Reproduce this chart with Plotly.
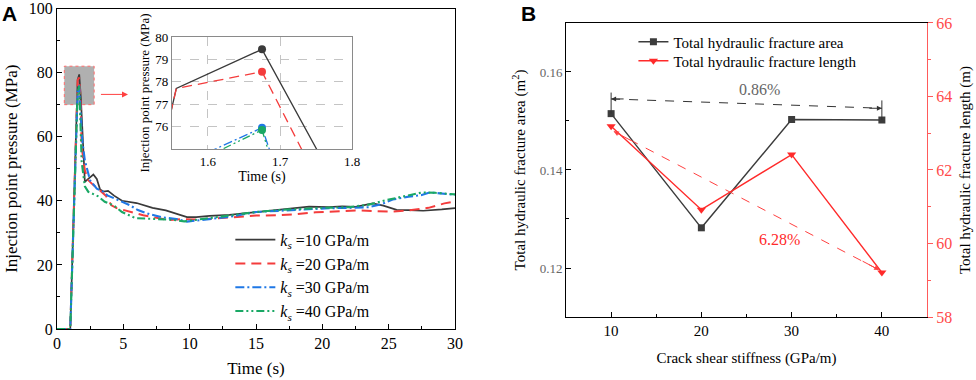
import plotly.graph_objects as go

# ---------------- Panel A data: injection point pressure ----------------
t_k10 = [0, 1.0, 1.556, 1.675, 1.8, 2.1, 2.4, 2.74, 3.0, 3.25, 3.5, 3.85, 4.3, 4.9, 6.0, 7.2, 8.2, 9.0, 9.8, 10.5, 11.5, 13, 15, 17, 19, 20.5, 21.5, 22.5, 23.8, 24.6, 25.6, 26.5, 27.6, 29, 30]
p_k10 = [0, 0, 77.7, 79.45, 72.1, 45.9, 47.0, 48.2, 46.8, 43.5, 42.9, 43.1, 41.6, 40.0, 39.3, 37.8, 37.0, 35.9, 34.9, 34.9, 35.3, 35.6, 36.5, 37.2, 38.2, 38.0, 38.3, 38.1, 39.2, 38.5, 37.2, 37.1, 36.9, 37.3, 37.7]

t_k20 = [0, 1.0, 1.556, 1.675, 1.76, 1.86, 2.1, 2.36, 2.74, 3.1, 3.7, 4.1, 4.5, 5.5, 6.5, 7.5, 8.4, 9.5, 10.5, 12, 13.5, 15, 16.5, 18, 19.5, 21, 22.5, 24, 25.2, 26.5, 28, 29.2, 30]
p_k20 = [0, 0, 77.7, 78.45, 73.1, 56.8, 49.5, 46.4, 44.9, 43.8, 41.5, 38.6, 37.7, 36.5, 35.5, 34.7, 34.0, 34.3, 34.2, 34.5, 35.0, 35.4, 35.5, 35.8, 36.4, 36.7, 37.0, 36.8, 36.6, 37.0, 37.8, 39.2, 39.8]

t_k30 = [0, 1.0, 1.556, 1.675, 1.7, 1.9, 2.1, 2.49, 3.0, 3.5, 3.8, 4.6, 5.5, 6.1, 7.0, 8.0, 9.0, 9.8, 10.5, 11.5, 13, 15, 17, 19, 20.5, 22, 23.5, 24.5, 25.3, 26.5, 27.5, 28.1, 29, 30]
p_k30 = [0, 0, 74.2, 75.95, 73.6, 58.9, 52.6, 46.4, 43.8, 42.8, 41.7, 40.2, 38.6, 37.1, 35.8, 34.8, 34.3, 33.5, 33.8, 34.3, 35.0, 36.5, 37.0, 37.5, 37.7, 37.8, 38.0, 39.0, 40.4, 41.3, 41.8, 42.6, 42.3, 41.9]

t_k40 = [0, 1.0, 1.556, 1.675, 1.7, 1.86, 2.1, 2.36, 3.1, 3.6, 4.3, 4.9, 5.9, 7.4, 8.6, 9.6, 10.5, 12, 13.5, 15, 17, 18.5, 20, 22, 23.5, 24.8, 26.4, 27.5, 28.5, 29.3, 30]
p_k40 = [0, 0, 74.0, 75.85, 73.2, 52.1, 44.5, 42.8, 41.4, 39.7, 38.5, 36.5, 34.6, 34.2, 34.1, 33.6, 34.1, 34.8, 35.6, 36.5, 37.2, 37.6, 37.8, 38.0, 38.8, 40.2, 41.7, 42.6, 42.5, 42.2, 42.0]

series_names = ["<i>k</i><sub><i>s</i></sub> =10 GPa/m", "<i>k</i><sub><i>s</i></sub> =20 GPa/m",
                "<i>k</i><sub><i>s</i></sub> =30 GPa/m", "<i>k</i><sub><i>s</i></sub> =40 GPa/m"]

# ---------------- Panel B data ----------------
stiffness = [10, 20, 30, 40]
frac_area = [0.1515, 0.1282, 0.1503, 0.1502]
frac_length = [63.19, 60.92, 62.42, 59.21]

# ---------------- styles ----------------
SERIF = "'Liberation Serif', 'Times New Roman', Times, serif"
colors = ["#3a3a3a", "#f43c3c", "#1f78e6", "#1aa865"]
dashes = ["solid", "10px,6px", "9px,3px,2px,3px", "8px,3px,2px,3px,2px,3px"]
widths = [1.7, 2.0, 2.1, 2.1]

fig = go.Figure()

series = [(t_k10, p_k10), (t_k20, p_k20), (t_k30, p_k30), (t_k40, p_k40)]
for (t, p), name, c, d, w in zip(series, series_names, colors, dashes, widths):
    fig.add_trace(go.Scatter(x=t, y=p, mode="lines", name=name,
                             line=dict(color=c, dash=d, width=w),
                             xaxis="x", yaxis="y", legend="legend"))

# inset: same data zoomed in, with peak markers
for (t, p), c, d in zip(series, colors, dashes):
    fig.add_trace(go.Scatter(x=t, y=p, mode="lines", showlegend=False,
                             line=dict(color=c, dash=d, width=1.3),
                             xaxis="x2", yaxis="y2"))
for (t, p), c in zip(series, colors):
    i = p.index(max(p))
    fig.add_trace(go.Scatter(x=[t[i]], y=[p[i]], mode="markers", showlegend=False,
                             marker=dict(color=c, size=8), cliponaxis=False,
                             xaxis="x2", yaxis="y2"))

# panel B
fig.add_trace(go.Scatter(x=stiffness, y=frac_area, mode="lines+markers",
                         name="Total hydraulic fracture area",
                         line=dict(color="#3c3c3c", width=1.4),
                         marker=dict(symbol="square", size=7, color="#3c3c3c"),
                         xaxis="x3", yaxis="y3", legend="legend2"))
fig.add_trace(go.Scatter(x=stiffness, y=frac_length, mode="lines+markers",
                         name="Total hydraulic fracture length",
                         line=dict(color="#ff2a2a", width=1.4),
                         marker=dict(symbol="triangle-down", size=8, color="#ff2a2a"),
                         xaxis="x3", yaxis="y4", legend="legend3"))

def tf(size, color="black"):
    return dict(family=SERIF, size=size, color=color)

axis_common = dict(showline=True, linecolor="black", linewidth=1, showgrid=False,
                   zeroline=False, ticks="inside", ticklen=5, tickcolor="black",
                   automargin=False)

layout = dict(
    width=976, height=380,
    margin=dict(l=0, r=0, t=0, b=0, autoexpand=False),
    paper_bgcolor="white", plot_bgcolor="white",
    font=dict(family=SERIF, color="black"),
    xaxis=dict(**axis_common, domain=[0.0584, 0.4662], range=[0, 30], dtick=5, tick0=0,
               mirror=True, anchor="y", tickfont=tf(16),
               minor=dict(dtick=2.5, ticks="inside", ticklen=3, tickcolor="black"),
               title=dict(text="Time (s)", font=tf(17), standoff=10)),
    yaxis=dict(**axis_common, domain=[0.1342, 0.9776], range=[0, 100], dtick=20, tick0=0,
               mirror=True, anchor="x", tickfont=tf(16),
               minor=dict(dtick=10, ticks="inside", ticklen=3, tickcolor="black"),
               title=dict(text="Injection point pressure (MPa)", font=tf(17), standoff=6)),
    xaxis2=dict(domain=[0.1762, 0.3607], range=[1.55, 1.8], tickvals=[1.6, 1.7, 1.8],
                anchor="y2", showline=True, mirror=True, linecolor="#8a8a8a", linewidth=1,
                showgrid=True, gridcolor="#c4c4c4", griddash="dash", zeroline=False,
                ticks="", tickfont=tf(13), automargin=False,
                title=dict(text="Time (s)", font=tf(14), standoff=2)),
    yaxis2=dict(domain=[0.6079, 0.9026], range=[75, 80], tickvals=[76, 77, 78, 79, 80],
                anchor="x2", showline=True, mirror=True, linecolor="#8a8a8a", linewidth=1,
                showgrid=True, gridcolor="#c4c4c4", griddash="dash", zeroline=False,
                ticks="", tickfont=tf(13), automargin=False,
                title=dict(text="Injection point pressure (MPa)", font=tf(13), standoff=2)),
    xaxis3=dict(**axis_common, tickfont=tf(15),
                domain=[0.5799, 0.9498], range=[5, 45], tickvals=stiffness,
                mirror=True, anchor="y3",
                minor=dict(tickvals=[15, 25, 35], ticks="inside", ticklen=3, tickcolor="black"),
                title=dict(text="Crack shear stiffness (GPa/m)", font=tf(15), standoff=14)),
    yaxis3=dict(**axis_common, tickfont=tf(13, "#666666"),
                domain=[0.1658, 0.9395], range=[0.11, 0.17], tickvals=[0.12, 0.14, 0.16],
                tickformat=".2f", anchor="x3",
                minor=dict(tickvals=[0.13, 0.15], ticks="inside", ticklen=3, tickcolor="black"),
                title=dict(text="Total hydraulic fracture area (m<sup>2</sup>)",
                           font=tf(15), standoff=10)),
    yaxis4=dict(showline=True, linecolor="#ff5a5a", linewidth=1, showgrid=False, zeroline=False,
                ticks="outside", ticklen=5, tickcolor="#ff5a5a", automargin=False,
                tickfont=tf(16, "#ff4a4a"),
                overlaying="y3", side="right", anchor="x3", range=[58, 66], dtick=2, tick0=58,
                minor=dict(dtick=1, ticks="outside", ticklen=3, tickcolor="#ff5a5a"),
                title=dict(text="Total hydraulic fracture length (m)", font=tf(15), standoff=8)),
    legend=dict(x=0.236, y=0.414, xanchor="left", yanchor="top", bgcolor="rgba(0,0,0,0)",
                font=tf(16), tracegroupgap=0, itemwidth=40),
    legend2=dict(x=0.649, y=1 - 42 / 380, xanchor="left", yanchor="middle", bgcolor="rgba(0,0,0,0)",
                 font=tf(15), tracegroupgap=0),
    legend3=dict(x=0.649, y=1 - 61 / 380, xanchor="left", yanchor="middle", bgcolor="rgba(0,0,0,0)",
                 font=tf(15), tracegroupgap=0),
    showlegend=True,
)
fig.update_layout(**layout)

# shaded zoom region & arrow in panel A
fig.add_shape(type="rect", xref="x", yref="y", x0=0.55, x1=2.8, y0=70, y1=82,
              fillcolor="#b0b0b0", line=dict(color="#ff6b6b", width=1, dash="dot"), layer="below")
fig.add_annotation(xref="x", yref="y", axref="x", ayref="y", x=5.35, y=73.2, ax=3.2, ay=73.2,
                   text="", showarrow=True, arrowhead=2, arrowsize=1.2, arrowwidth=1,
                   arrowcolor="#ff4040")

# panel B annotations
fig.add_shape(type="line", xref="x3", yref="y3", x0=10, x1=10, y0=0.1515, y1=0.1558,
              line=dict(color="#333333", width=1))
fig.add_shape(type="line", xref="x3", yref="y3", x0=40, x1=40, y0=0.1502, y1=0.1542,
              line=dict(color="#333333", width=1))
fig.add_shape(type="line", xref="x3", yref="y3", x0=10, x1=40, y0=0.1545, y1=0.1526,
              line=dict(color="#333333", width=1, dash="dash"))
fig.add_annotation(xref="x3", yref="y3", x=10, y=0.1545, ax=14, ay=0, text="", showarrow=True,
                   arrowhead=2, arrowsize=1, arrowwidth=1, arrowcolor="#333333")
fig.add_annotation(xref="x3", yref="y3", x=40, y=0.1526, ax=-14, ay=0, text="", showarrow=True,
                   arrowhead=2, arrowsize=1, arrowwidth=1, arrowcolor="#333333")
fig.add_shape(type="line", xref="x3", yref="y4", x0=10.3, x1=39.7, y0=63.05, y1=59.28,
              line=dict(color="#ff4040", width=1, dash="dash"))
fig.add_annotation(xref="x3", yref="y4", axref="x3", ayref="y4", x=10.3, y=63.05, ax=12.3, ay=62.79,
                   text="", showarrow=True, arrowhead=2, arrowsize=1, arrowwidth=1, arrowcolor="#ff4040")
fig.add_annotation(xref="x3", yref="y4", axref="x3", ayref="y4", x=39.7, y=59.28, ax=37.7, ay=59.54,
                   text="", showarrow=True, arrowhead=2, arrowsize=1, arrowwidth=1, arrowcolor="#ff4040")
fig.add_annotation(xref="x3", yref="y3", x=26.4, y=0.1565, text="0.86%", showarrow=False,
                   font=tf(16, "#666666"))
fig.add_annotation(xref="x3", yref="y4", x=28.7, y=60.1, text="6.28%", showarrow=False,
                   font=tf(16, "#ff2a2a"))

# panel labels
fig.add_annotation(xref="paper", yref="paper", x=0.0, y=1.0, xanchor="left", yanchor="top",
                   text="<b>A</b>", showarrow=False,
                   font=dict(family="'Liberation Sans', Arial, sans-serif", size=21, color="black"))
fig.add_annotation(xref="paper", yref="paper", x=0.532, y=1.0, xanchor="left", yanchor="top",
                   text="<b>B</b>", showarrow=False,
                   font=dict(family="'Liberation Sans', Arial, sans-serif", size=21, color="black"))

fig.write_html("out.html", config={"displayModeBar": False},
               post_script="document.body.style.margin='0';document.body.style.overflow='hidden';")
